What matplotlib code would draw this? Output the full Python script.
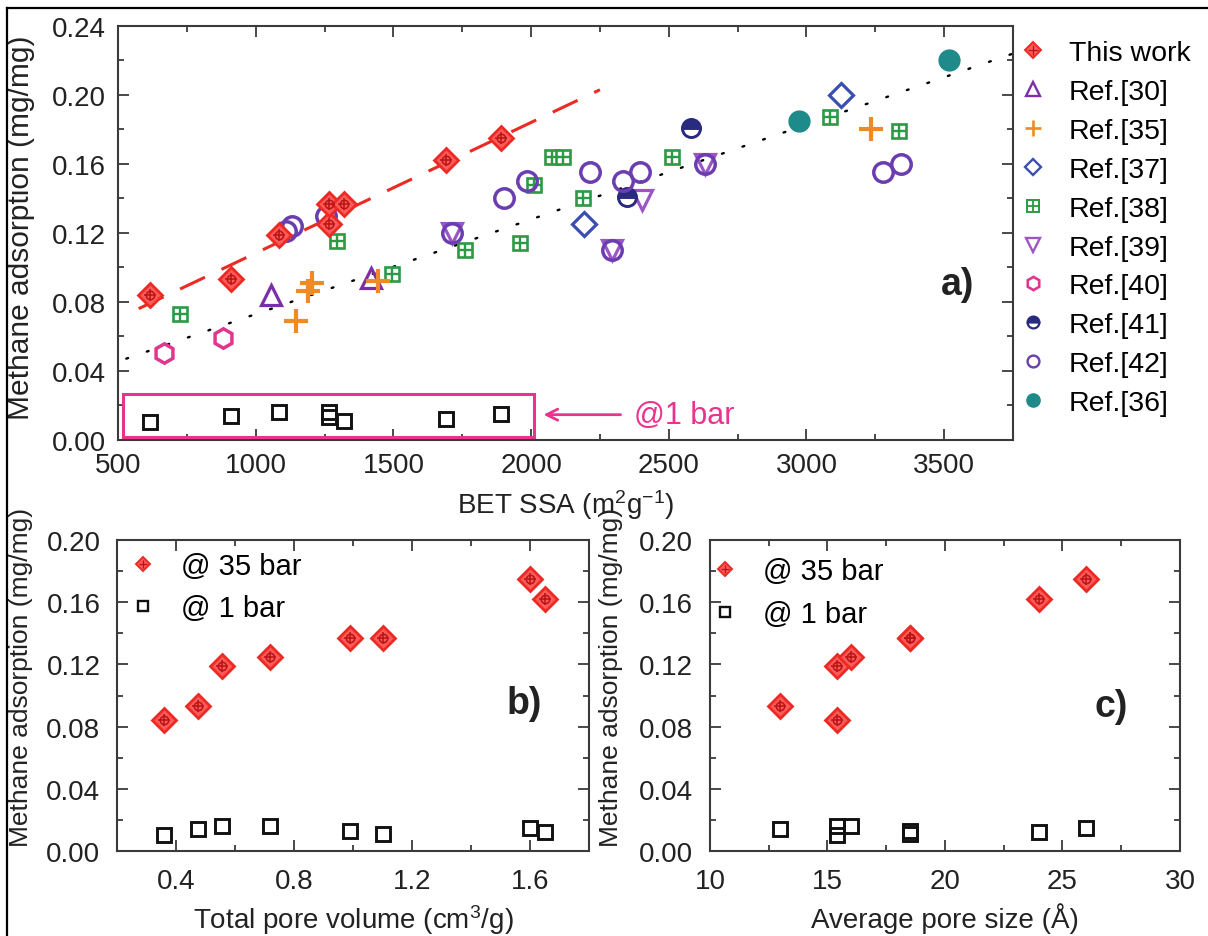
import matplotlib
matplotlib.use('Agg')
import matplotlib.pyplot as plt
from matplotlib.lines import Line2D
from matplotlib.patches import Rectangle
from matplotlib.ticker import MultipleLocator, FormatStrFormatter

plt.rcParams['font.family'] = ['Liberation Sans', 'DejaVu Sans']
plt.rcParams['mathtext.fontset'] = 'custom'
plt.rcParams['mathtext.rm'] = 'Liberation Sans'
plt.rcParams['mathtext.it'] = 'Liberation Sans'
plt.rcParams['mathtext.bf'] = 'Liberation Sans:bold'

# ── this work (8 samples) ──
bet = [615, 910, 1085, 1265, 1265, 1320, 1690, 1890]
q_35bar = [0.084, 0.093, 0.119, 0.125, 0.137, 0.137, 0.162, 0.175]
q_1bar = [0.010, 0.014, 0.016, 0.016, 0.013, 0.011, 0.012, 0.015]
pore_vol = [0.36, 0.475, 0.555, 0.72, 0.99, 1.10, 1.65, 1.60]
pore_size = [15.4, 13.0, 15.4, 16.0, 18.5, 18.5, 24.0, 26.0]

# ── literature values (BET SSA, uptake) ──
ref30_x = [1055, 1420]
ref30_y = [0.084, 0.094]
ref35_x = [1145, 1190, 1205, 1443, 3233]
ref35_y = [0.069, 0.086, 0.091, 0.092, 0.180]
ref37_x = [2192, 3124]
ref37_y = [0.125, 0.200]
ref38_x = [724, 1295, 1494, 1759, 1960, 2011, 2075, 2115, 2189, 2511, 3086, 3335]
ref38_y = [0.073, 0.115, 0.096, 0.110, 0.114, 0.148, 0.164, 0.164, 0.140, 0.164, 0.187, 0.179]
ref39_x = [1713, 2294, 2402, 2631]
ref39_y = [0.120, 0.110, 0.139, 0.160]
ref40_x = [666, 880]
ref40_y = [0.050, 0.059]
ref41_x = [2348, 2580]
ref41_y = [0.141, 0.181]
ref42_x = [1109, 1131, 1256, 1713, 1903, 1985, 2214, 2294, 2334, 2394, 2631, 3278, 3342]
ref42_y = [0.121, 0.124, 0.130, 0.120, 0.140, 0.150, 0.155, 0.110, 0.150, 0.155, 0.160, 0.155, 0.160]
ref36_x = [2974, 3519]
ref36_y = [0.185, 0.220]

# trend lines (end points)
fit_all_x = [530, 3750]
fit_all_y = [0.047, 0.224]
fit_ours_x = [575, 2250]
fit_ours_y = [0.076, 0.203]

# "@1 bar" box
box_x = [519, 2011]
box_y = [0.0015, 0.0265]

RED = '#ec2a24'
DRED = '#b81414'
PINK = '#e8348f'
GREEN = '#2a9a44'
AXC = '#3a3a3a'
TXT = '#222222'


def this_work(ax, x, y, ms=12):
    ax.plot(x, y, 'D', ms=ms, mfc='#ff5a5a', mec=RED, mew=2.0, ls='none', zorder=5)
    ax.plot(x, y, 'o', ms=ms * 0.5, mfc='none', mec=DRED, mew=1.1, ls='none', zorder=6)
    ax.plot(x, y, '+', ms=ms * 0.75, mec=DRED, mew=1.1, ls='none', zorder=6)


def one_bar(ax, x, y, ms=10.5):
    ax.plot(x, y, 's', ms=ms, mfc='none', mec='#111111', mew=2.1, ls='none', zorder=5)


def style_axes(ax, xmaj, xmin, xfmt):
    ax.xaxis.set_major_locator(MultipleLocator(xmaj))
    ax.xaxis.set_minor_locator(MultipleLocator(xmin))
    ax.yaxis.set_major_locator(MultipleLocator(0.04))
    ax.yaxis.set_minor_locator(MultipleLocator(0.02))
    ax.xaxis.set_major_formatter(FormatStrFormatter(xfmt))
    ax.yaxis.set_major_formatter(FormatStrFormatter('%.2f'))
    ax.tick_params(which='both', direction='in', top=True, right=True,
                   colors=AXC, labelcolor=TXT, labelsize=20, width=1.3)
    ax.tick_params(which='major', length=8, pad=9)
    ax.tick_params(which='minor', length=4.5)
    for sp in ax.spines.values():
        sp.set_linewidth(1.5)
        sp.set_color(AXC)


def small_legend(ax, anchor, pad):
    h1 = (Line2D([], [], marker='D', ms=7.5, mfc='#ff5a5a', mec=RED, mew=1.4, ls='none'),
          Line2D([], [], marker='+', ms=5.5, mec=DRED, mew=0.9, ls='none'))
    h2 = Line2D([], [], marker='s', ms=7.5, mfc='none', mec='#111111', mew=1.7, ls='none')
    ax.legend([h1, h2], ['@ 35 bar', '@ 1 bar'], loc='upper left', bbox_to_anchor=anchor,
              frameon=False, fontsize=21, handlelength=1.0, handletextpad=pad,
              labelspacing=0.5, borderpad=0, borderaxespad=0)


fig = plt.figure(figsize=(12.08, 9.37), dpi=100)

# ============================================================
# a) uptake vs BET SSA
# ============================================================
ax = fig.add_axes([0.0977, 0.5297, 0.7409, 0.4415])
ax.plot(fit_all_x, fit_all_y, color='black', lw=1.7, ls=(0, (0.8, 8.4)),
        dash_capstyle='round', zorder=2)
ax.plot(fit_ours_x, fit_ours_y, color=RED, lw=2.2, ls=(0, (9, 6)), zorder=2)

ax.plot(ref38_x, ref38_y, 's', ms=10.5, mfc='white', mec=GREEN, mew=1.9, ls='none', zorder=3)
ax.plot(ref38_x, ref38_y, '+', ms=10.5, mec=GREEN, mew=1.7, ls='none', zorder=3)
ax.plot(ref30_x, ref30_y, '^', ms=14, mfc='none', mec='#7a2fa8', mew=2.3, ls='none', zorder=4)
ax.plot(ref35_x, ref35_y, '+', ms=17, mec='#f08a24', mew=3.0, ls='none', zorder=4)
ax.plot(ref37_x, ref37_y, 'D', ms=12, mfc='none', mec='#3a4fb0', mew=2.3, ls='none', zorder=4)
ax.plot(ref39_x, ref39_y, 'v', ms=14, mfc='none', mec='#9b55c4', mew=2.3, ls='none', zorder=4)
ax.plot(ref40_x, ref40_y, 'h', ms=14, mfc='none', mec='#e0368e', mew=2.5, ls='none', zorder=4)
ax.plot(ref41_x, ref41_y, 'o', ms=13, fillstyle='top', mfc='#2a2a7e', mfcalt='white',
        mec='#2a2a7e', mew=2.1, ls='none', zorder=4)
ax.plot(ref42_x, ref42_y, 'o', ms=14, mfc='none', mec='#6a3db0', mew=2.5, ls='none', zorder=4)
ax.plot(ref36_x, ref36_y, 'o', ms=15, mfc='#1e8a8a', mec='#1e8a8a', ls='none', zorder=4)

this_work(ax, bet, q_35bar)
one_bar(ax, bet, q_1bar)

ax.add_patch(Rectangle((box_x[0], box_y[0]), box_x[1] - box_x[0], box_y[1] - box_y[0],
                       fill=False, ec=PINK, lw=2.2, zorder=6, clip_on=False))
ax.annotate('', xy=(2035, 0.0145), xytext=(2335, 0.0145),
            arrowprops=dict(arrowstyle='->,head_length=0.8,head_width=0.4', color=PINK, lw=2.0))
ax.text(2372, 0.0145, '@1 bar', color=PINK, fontsize=22, va='center', ha='left')
ax.text(0.9375, 0.376, 'a)', transform=ax.transAxes, fontsize=27, fontweight='bold',
        ha='center', va='center', color=TXT)

ax.set_xlim(500, 3750)
ax.set_ylim(0, 0.24)
style_axes(ax, 500, 250, '%d')
ax.set_xlabel('BET SSA (m$^{2}$g$^{-1}$)', fontsize=20, color=TXT)
ax.xaxis.set_label_coords(0.5, -0.115)
ax.set_ylabel('Methane adsorption (mg/mg)', fontsize=21.5, color=TXT)
ax.yaxis.set_label_coords(-0.093, 0.515)

leg_handles = [
    (Line2D([], [], marker='D', ms=8.5, mfc='#ff5a5a', mec=RED, mew=1.4, ls='none'),
     Line2D([], [], marker='+', ms=6.5, mec=DRED, mew=0.9, ls='none')),
    Line2D([], [], marker='^', ms=9.5, mfc='none', mec='#7a2fa8', mew=1.7, ls='none'),
    Line2D([], [], marker='+', ms=12, mec='#f08a24', mew=1.9, ls='none'),
    Line2D([], [], marker='D', ms=8.5, mfc='none', mec='#3a4fb0', mew=1.7, ls='none'),
    (Line2D([], [], marker='s', ms=8.5, mfc='white', mec=GREEN, mew=1.4, ls='none'),
     Line2D([], [], marker='+', ms=8.5, mec=GREEN, mew=1.3, ls='none')),
    Line2D([], [], marker='v', ms=9.5, mfc='none', mec='#9b55c4', mew=1.7, ls='none'),
    Line2D([], [], marker='h', ms=9.5, mfc='none', mec='#e0368e', mew=1.9, ls='none'),
    Line2D([], [], marker='o', ms=8.5, fillstyle='top', mfc='#2a2a7e', mfcalt='white',
           mec='#2a2a7e', mew=1.6, ls='none'),
    Line2D([], [], marker='o', ms=8.5, mfc='none', mec='#6a3db0', mew=1.7, ls='none'),
    Line2D([], [], marker='o', ms=9.5, mfc='#1e8a8a', mec='#1e8a8a', ls='none'),
]
leg_labels = ['This work', 'Ref.[30]', 'Ref.[35]', 'Ref.[37]', 'Ref.[38]', 'Ref.[39]',
              'Ref.[40]', 'Ref.[41]', 'Ref.[42]', 'Ref.[36]']
ax.legend(leg_handles, leg_labels, loc='upper left', bbox_to_anchor=(1.0067, 0.965),
          frameon=False, fontsize=20.5, handlelength=1.0, handletextpad=0.74,
          labelspacing=0.45, borderpad=0, borderaxespad=0)

# ============================================================
# b) uptake vs total pore volume
# ============================================================
axb = fig.add_axes([0.0969, 0.0907, 0.3907, 0.3319])
this_work(axb, pore_vol, q_35bar)
one_bar(axb, pore_vol, q_1bar, ms=10)
axb.set_xlim(0.2, 1.8)
axb.set_ylim(0, 0.2)
style_axes(axb, 0.4, 0.2, '%.1f')
axb.tick_params(which='major', pad=12)
axb.set_xlabel('Total pore volume (cm$^{3}$/g)', fontsize=20, color=TXT)
axb.xaxis.set_label_coords(0.5, -0.165)
axb.set_ylabel('Methane adsorption (mg/mg)', fontsize=19, color=TXT)
axb.yaxis.set_label_coords(-0.178, 0.56)
axb.text(0.862, 0.477, 'b)', transform=axb.transAxes, fontsize=27, fontweight='bold',
         ha='center', va='center', color=TXT)
small_legend(axb, (0.0246, 0.962), 0.8)

# ============================================================
# c) uptake vs average pore size
# ============================================================
axc = fig.add_axes([0.5877, 0.0907, 0.3891, 0.3319])
this_work(axc, pore_size, q_35bar)
one_bar(axc, pore_size, q_1bar, ms=10)
axc.set_xlim(10, 30)
axc.set_ylim(0, 0.2)
style_axes(axc, 5, 2.5, '%d')
axc.tick_params(which='major', pad=12)
axc.set_xlabel('Average pore size (Å)', fontsize=20, color=TXT)
axc.xaxis.set_label_coords(0.5, -0.165)
axc.set_ylabel('Methane adsorption (mg/mg)', fontsize=19, color=TXT)
axc.yaxis.set_label_coords(-0.185, 0.56)
axc.text(0.853, 0.467, 'c)', transform=axc.transAxes, fontsize=27, fontweight='bold',
         ha='center', va='center', color=TXT)
small_legend(axc, (0.002, 0.945), 0.8)

# outer frame (top and left edges visible in the source image)
fig.add_artist(Line2D([7 / 1208, 1.0], [1 - 9 / 937, 1 - 9 / 937],
                      transform=fig.transFigure, color='black', lw=1.6))
fig.add_artist(Line2D([7 / 1208, 7 / 1208], [0.0, 1 - 9 / 937],
                      transform=fig.transFigure, color='black', lw=1.6))

fig.savefig('out.png', dpi=100)
plt.close(fig)
